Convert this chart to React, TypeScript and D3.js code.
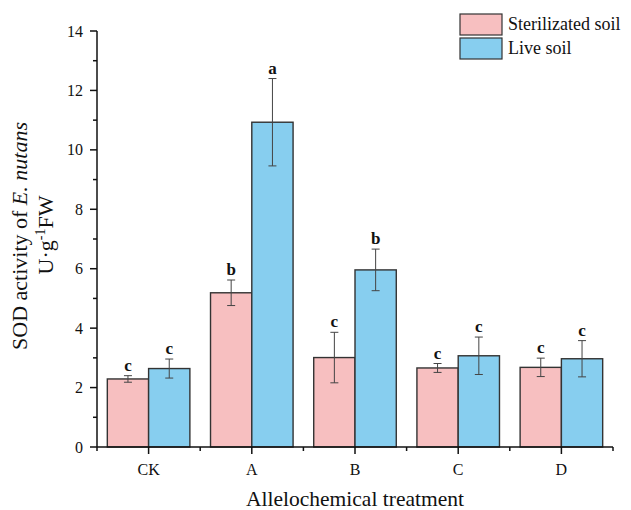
import React from "react";
import * as d3 from "d3";

const categories = ["CK", "A", "B", "C", "D"];
const series = ["Sterilizated soil", "Live soil"];
const sterilized = [2.29, 5.19, 3.01, 2.66, 2.68];
const sterilizedErr = [0.11, 0.43, 0.85, 0.15, 0.31];
const live = [2.64, 10.93, 5.96, 3.07, 2.97];
const liveErr = [0.32, 1.47, 0.7, 0.63, 0.61];
const sterilizedLetters = ["c", "b", "c", "c", "c"];
const liveLetters = ["c", "a", "b", "c", "c"];
const yTicks = [0, 2, 4, 6, 8, 10, 12, 14];

const colors = ["#F7BFC0", "#87CEEF"];
const FONT = "'Liberation Serif', 'Times New Roman', serif";

export default function App() {
  const W = 631, H = 510;
  const x0 = 97, x1 = 613, yBase = 447, yTop = 31;
  const x = d3.scaleBand<string>().domain(categories).range([x0, x1]).padding(0);
  const y = d3.scaleLinear().domain([0, 14]).range([yBase, yTop]);
  const inner = d3.scaleBand<number>().domain([0, 1]).range([0, x.bandwidth() * 0.8]);
  const groupOffset = x.bandwidth() * 0.1;

  const data = [
    { vals: sterilized, errs: sterilizedErr, letters: sterilizedLetters },
    { vals: live, errs: liveErr, letters: liveLetters },
  ];

  const minorY = d3.range(1, 14, 2);
  const minorX = d3.range(0, categories.length + 1).map((i) => x0 + i * x.step());

  return (
    <svg width={W} height={H} style={{ position: "absolute", left: 0, top: 0 }} fontFamily={FONT}>
      <rect width={W} height={H} fill="#fff" />
      {/* bars */}
      {categories.map((c, i) =>
        data.map((s, k) => {
          const bx = (x(c) as number) + groupOffset + (inner(k) as number);
          const bw = inner.bandwidth();
          const v = s.vals[i];
          const e = s.errs[i];
          const cx = bx + bw / 2;
          return (
            <g key={c + k}>
              <rect x={bx} y={y(v)} width={bw} height={yBase - y(v)} fill={colors[k]} stroke="#333" strokeWidth={1.4} />
              <line x1={cx} x2={cx} y1={y(v + e)} y2={y(v - e)} stroke="#444" strokeWidth={1} />
              <line x1={cx - 4} x2={cx + 4} y1={y(v + e)} y2={y(v + e)} stroke="#444" strokeWidth={1} />
              <line x1={cx - 4} x2={cx + 4} y1={y(v - e)} y2={y(v - e)} stroke="#444" strokeWidth={1} />
              <text x={cx} y={y(v + e) - 5} textAnchor="middle" fontWeight="bold" fontSize={17} fill="#111">
                {s.letters[i]}
              </text>
            </g>
          );
        })
      )}
      {/* y axis */}
      <line x1={x0} x2={x0} y1={yTop} y2={yBase} stroke="#111" strokeWidth={1.5} />
      {yTicks.map((t) => (
        <g key={"y" + t}>
          <line x1={x0 - 7} x2={x0} y1={y(t)} y2={y(t)} stroke="#111" strokeWidth={1.5} />
          <text x={x0 - 14} y={y(t)} dy="0.35em" textAnchor="end" fontSize={16} fill="#111">
            {t}
          </text>
        </g>
      ))}
      {minorY.map((t) => (
        <line key={"my" + t} x1={x0 - 4} x2={x0} y1={y(t)} y2={y(t)} stroke="#111" strokeWidth={1.5} />
      ))}
      {/* x axis */}
      <line x1={x0} x2={x1} y1={yBase} y2={yBase} stroke="#111" strokeWidth={1.5} />
      {categories.map((c) => {
        const cx = (x(c) as number) + x.bandwidth() / 2;
        return (
          <g key={"x" + c}>
            <line x1={cx} x2={cx} y1={yBase} y2={yBase + 7} stroke="#111" strokeWidth={1.5} />
            <text x={cx} y={475} textAnchor="middle" fontSize={16} fill="#111">
              {c}
            </text>
          </g>
        );
      })}
      {minorX.map((mx, i) => (
        <line key={"mx" + i} x1={mx} x2={mx} y1={yBase} y2={yBase + 4} stroke="#111" strokeWidth={1.5} />
      ))}
      <text x={(x0 + x1) / 2} y={506} textAnchor="middle" fontSize={21.5} fill="#111">
        Allelochemical treatment
      </text>
      {/* y title */}
      <g transform="translate(27,236) rotate(-90)">
        <text textAnchor="middle" fontSize={22} fill="#111">
          SOD activity of <tspan fontStyle="italic">E. nutans</tspan>
        </text>
      </g>
      <g transform="translate(53,235) rotate(-90)">
        <text textAnchor="middle" fontSize={22} fill="#111">
          U·g<tspan dy={-8} fontSize={14}>-1</tspan><tspan dy={8}>FW</tspan>
        </text>
      </g>
      {/* legend */}
      {series.map((s, k) => (
        <g key={s} transform={`translate(460,${14 + k * 24})`}>
          <rect width={42} height={21} fill={colors[k]} stroke="#333" strokeWidth={1.2} />
          <text x={48} y={16} fontSize={18} fill="#111">
            {s}
          </text>
        </g>
      ))}
    </svg>
  );
}
